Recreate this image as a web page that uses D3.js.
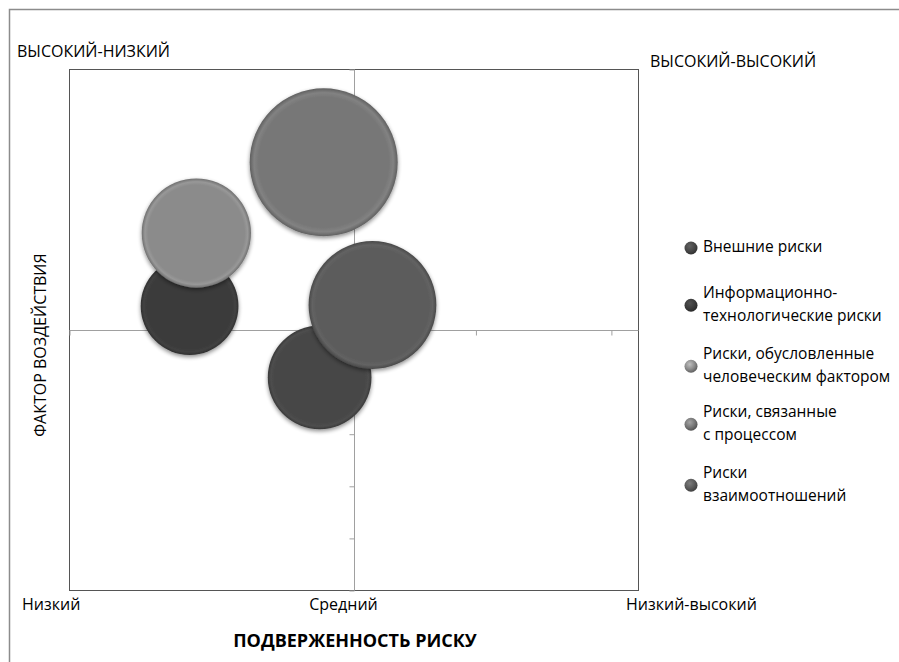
<!DOCTYPE html>
<html>
<head>
<meta charset="utf-8">
<script src="https://cdn.jsdelivr.net/npm/d3@7"></script>
<style>
  body { margin: 0; background: #fff; }
  text { font-family: "Open Sans", "Noto Sans", sans-serif; fill: #000; }
</style>
</head>
<body>
<div id="chart"></div>
<script>
// series, in the order the bubbles are drawn
const seriesNames = ["Внешние риски", "Информационно-технологические риски",
  "Риски, обусловленные человеческим фактором", "Риски, связанные с процессом", "Риски взаимоотношений"];
const legendLines = [["Внешние риски"], ["Информационно-", "технологические риски"],
  ["Риски, обусловленные", "человеческим фактором"], ["Риски, связанные", "с процессом"],
  ["Риски", "взаимоотношений"]];
const xValues = [1.85, 0.89, 0.94, 1.88, 2.24];
const yValues = [4.08, 5.45, 6.85, 8.21, 5.47];
const sizeValues = [27, 24, 30, 55, 41];
const colors = ["#474747", "#3b3b3b", "#8b8b8b", "#777777", "#5b5b5b"];

const xTicks = [0, 1, 2, 3, 4];
const yTicks = d3.range(0, 11);
const xCategoryLabels = ["Низкий", "Средний", "Низкий-высокий"];
const cornerLabels = ["ВЫСОКИЙ-НИЗКИЙ", "ВЫСОКИЙ-ВЫСОКИЙ"];
const xTitle = "ПОДВЕРЖЕННОСТЬ РИСКУ";
const yTitle = "ФАКТОР ВОЗДЕЙСТВИЯ";

const data = seriesNames.map((name, i) => ({
  name, x: xValues[i], y: yValues[i], size: sizeValues[i], color: colors[i], lines: legendLines[i]
}));

const width = 899, height = 662;
const plot = { left: 69, right: 638, top: 69, bottom: 590 };
const xCross = 2.1, yCross = 5;

const x = d3.scaleLinear().domain([0, 4.2]).range([plot.left, plot.right]);
const y = d3.scaleLinear().domain([0, 10]).range([plot.bottom, plot.top]);
const r = d3.scaleSqrt().domain([0, d3.max(sizeValues)]).range([0, 74]);

const svg = d3.select("#chart").append("svg")
  .attr("width", width)
  .attr("height", height);

const defs = svg.append("defs");

// soft shadow under each bubble
const shadow = defs.append("filter").attr("id", "shadow")
  .attr("x", "-20%").attr("y", "-20%").attr("width", "140%").attr("height", "140%");
shadow.append("feGaussianBlur").attr("in", "SourceAlpha").attr("stdDeviation", 2);
shadow.append("feOffset").attr("dx", 0).attr("dy", 1.5).attr("result", "blur");
shadow.append("feComponentTransfer").append("feFuncA").attr("type", "linear").attr("slope", 0.45);
const merge = shadow.append("feMerge");
merge.append("feMergeNode");
merge.append("feMergeNode").attr("in", "SourceGraphic");

data.forEach((d, i) => {
  const c = d3.color(d.color);
  // flat face with a bevelled rim
  const g = defs.append("radialGradient").attr("id", "bub" + i);
  g.append("stop").attr("offset", "0%").attr("stop-color", c);
  g.append("stop").attr("offset", "88%").attr("stop-color", c);
  g.append("stop").attr("offset", "94%").attr("stop-color", c.brighter(0.25));
  g.append("stop").attr("offset", "100%").attr("stop-color", c.darker(0.6));
  // little sphere for the legend
  const s = defs.append("radialGradient").attr("id", "leg" + i)
    .attr("cx", "40%").attr("cy", "35%").attr("r", "65%");
  s.append("stop").attr("offset", "0%").attr("stop-color", c.brighter(0.9));
  s.append("stop").attr("offset", "60%").attr("stop-color", c);
  s.append("stop").attr("offset", "100%").attr("stop-color", c.darker(1));
});

// outer frame (cut by the picture edge on the right and bottom)
svg.append("rect")
  .attr("x", 9.5).attr("y", 9.5)
  .attr("width", 1000).attr("height", 1000)
  .attr("fill", "none").attr("stroke", "#8c8c8c").attr("stroke-width", 1.5);

// plot area
svg.append("rect")
  .attr("x", plot.left + 0.5).attr("y", plot.top + 0.5)
  .attr("width", plot.right - plot.left).attr("height", plot.bottom - plot.top)
  .attr("fill", "#fff").attr("stroke", "#555").attr("stroke-width", 1);

// horizontal axis through the middle
const xAxis = d3.axisBottom(x).tickValues(xTicks).tickSize(5).tickFormat("");
svg.append("g")
  .attr("transform", `translate(0.5,${Math.round(y(yCross)) + 0.5})`)
  .call(xAxis)
  .call(g => g.select(".domain").attr("stroke", "#a0a0a0").attr("d", `M${plot.left},0H${plot.right}`))
  .call(g => g.selectAll(".tick line").attr("stroke", "#a0a0a0"));

// vertical axis through the middle
const yAxis = d3.axisLeft(y).tickValues(yTicks).tickSize(5).tickFormat("");
svg.append("g")
  .attr("transform", `translate(${Math.round(x(xCross)) + 0.5},0.5)`)
  .call(yAxis)
  .call(g => g.select(".domain").attr("stroke", "#a0a0a0").attr("d", `M0,${plot.top}V${plot.bottom}`))
  .call(g => g.selectAll(".tick line").attr("stroke", "#a0a0a0"));

// bubbles
svg.append("g")
  .selectAll("circle")
  .data(data)
  .join("circle")
  .attr("cx", d => x(d.x))
  .attr("cy", d => y(d.y))
  .attr("r", d => r(d.size))
  .attr("fill", (d, i) => `url(#bub${i})`)
  .attr("filter", "url(#shadow)");

// corner labels
svg.append("text").attr("x", 17).attr("y", 57).attr("font-size", 16).text(cornerLabels[0]);
svg.append("text").attr("x", 650).attr("y", 67).attr("font-size", 16).text(cornerLabels[1]);

// labels under the horizontal axis
const catX = [x(0) - 47, x(xCross) - 10, x(4.2) - 12];
const catAnchor = ["start", "middle", "start"];
svg.append("g")
  .selectAll("text")
  .data(xCategoryLabels)
  .join("text")
  .attr("x", (d, i) => catX[i])
  .attr("y", 610)
  .attr("text-anchor", (d, i) => catAnchor[i])
  .attr("font-size", 16)
  .text(d => d);

svg.append("text")
  .attr("x", 355).attr("y", 647)
  .attr("text-anchor", "middle")
  .attr("font-size", 18).attr("font-weight", "bold")
  .text(xTitle);

svg.append("text")
  .attr("transform", `translate(46,345) rotate(-90)`)
  .attr("text-anchor", "middle")
  .attr("font-size", 16)
  .text(yTitle);

// legend
const legendTops = [247, 293, 354, 412, 473];
const lineH = 22.5;
const legend = svg.append("g")
  .selectAll("g")
  .data(data)
  .join("g")
  .attr("transform", (d, i) => `translate(691,${legendTops[i]})`);

legend.append("circle")
  .attr("cy", d => (d.lines.length - 1) * lineH / 2 + 1)
  .attr("r", 6.5)
  .attr("fill", (d, i) => `url(#leg${i})`);

legend.each(function (d) {
  d3.select(this).selectAll("text")
    .data(d.lines)
    .join("text")
    .attr("x", 12)
    .attr("y", (l, j) => j * lineH + 5)
    .attr("font-size", 15.5)
    .text(l => l);
});
</script>
</body>
</html>
